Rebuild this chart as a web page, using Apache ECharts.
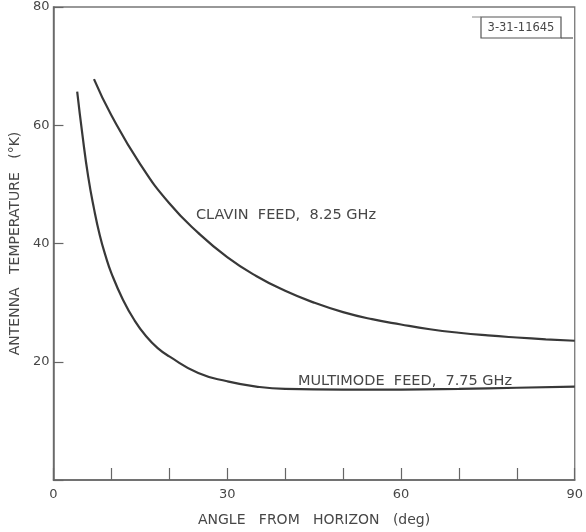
<!DOCTYPE html>
<html>
<head>
<meta charset="utf-8">
<script src="https://cdn.jsdelivr.net/npm/echarts@6/dist/echarts.min.js"></script>
<style>
  html, body { margin: 0; padding: 0; background: #fff; }
  #chart { width: 586px; height: 532px; }
</style>
</head>
<body>
<div id="chart"></div>
<script>
// ---- data ----
var clavinAngle = [7, 10, 15, 20, 25, 30, 35, 40, 45, 50, 55, 60, 65, 70, 75, 80, 85, 90];
var clavinTemp  = [67.8, 61.7, 53.4, 46.8, 41.8, 37.7, 34.5, 32.0, 30.0, 28.4, 27.2, 26.3, 25.5, 24.9, 24.45, 24.1, 23.8, 23.55];

var multiAngle = [4.1, 5, 6, 7, 8, 9, 10, 12, 14, 16, 18, 20, 25, 30, 35, 40, 50, 60, 70, 80, 90];
var multiTemp  = [65.7, 58.4, 51.3, 45.9, 41.4, 37.9, 35.0, 30.5, 27.0, 24.3, 22.3, 20.9, 18.1, 16.7, 15.8, 15.4, 15.3, 15.3, 15.4, 15.6, 15.8];

var xLabels = [0, 30, 60, 90];
var yLabels = [20, 40, 60, 80];

function pairs(xs, ys) {
    return xs.map(function (x, i) { return [x, ys[i]]; });
}

var inkText = '#474747';
var inkLine = '#383838';
var font = 'DejaVu Sans';

var myChart = echarts.init(document.getElementById('chart'));

var option = {
    backgroundColor: '#ffffff',
    animation: false,
    grid: {
        left: 53,
        right: 4,
        top: 7,
        bottom: 47,
        show: true,
        borderColor: '#777',
        borderWidth: 1.3
    },
    xAxis: {
        type: 'value',
        min: 0,
        max: 90,
        interval: 10,
        name: 'ANGLE   FROM   HORIZON   (deg)',
        nameLocation: 'middle',
        nameGap: 33,
        nameTextStyle: { color: inkText, fontSize: 14, fontFamily: font },
        axisLine: { lineStyle: { color: '#666', width: 1.5 } },
        axisTick: { inside: true, length: 12, lineStyle: { color: '#666', width: 1.2 } },
        axisLabel: {
            color: inkText,
            fontSize: 13,
            fontFamily: font,
            margin: 8,
            formatter: function (v) { return xLabels.indexOf(v) >= 0 ? String(v) : ''; }
        },
        splitLine: { show: false }
    },
    yAxis: {
        type: 'value',
        min: 0,
        max: 80,
        interval: 20,
        name: 'ANTENNA   TEMPERATURE   (°K)',
        nameLocation: 'middle',
        nameGap: 30,
        nameRotate: 90,
        nameTextStyle: { color: inkText, fontSize: 14, fontFamily: font },
        axisLine: { show: true, lineStyle: { color: '#666', width: 1.5 } },
        axisTick: { show: true, inside: true, length: 10, lineStyle: { color: '#666', width: 1.2 } },
        axisLabel: {
            color: inkText,
            fontSize: 13,
            fontFamily: font,
            margin: 4,
            formatter: function (v) { return yLabels.indexOf(v) >= 0 ? String(v) : ''; }
        },
        splitLine: { show: false }
    },
    graphic: [
        // figure number box, top right
        { type: 'rect', shape: { x: 481, y: 17, width: 80, height: 21 },
          style: { fill: 'none', stroke: '#555', lineWidth: 1.2 } },
        { type: 'line', shape: { x1: 472, y1: 17, x2: 481, y2: 17 }, style: { stroke: '#888', lineWidth: 1 } },
        { type: 'line', shape: { x1: 561, y1: 38, x2: 573, y2: 38 }, style: { stroke: '#555', lineWidth: 1.2 } },
        { type: 'text', x: 521, y: 28,
          style: { text: '3-31-11645', fill: inkText, fontSize: 11.5, fontFamily: font, align: 'center', verticalAlign: 'middle' } },
        // curve captions
        { type: 'text', x: 196, y: 215,
          style: { text: 'CLAVIN  FEED,  8.25 GHz', fill: inkText, fontSize: 14.5, fontFamily: font, verticalAlign: 'middle' } },
        { type: 'text', x: 298, y: 381,
          style: { text: 'MULTIMODE  FEED,  7.75 GHz', fill: inkText, fontSize: 14.5, fontFamily: font, verticalAlign: 'middle' } }
    ],
    series: [{
        name: 'Clavin feed, 8.25 GHz',
        type: 'line',
        data: pairs(clavinAngle, clavinTemp),
        smooth: 0.5,
        showSymbol: false,
        lineStyle: { color: inkLine, width: 2.2 }
    }, {
        name: 'Multimode feed, 7.75 GHz',
        type: 'line',
        data: pairs(multiAngle, multiTemp),
        smooth: 0.5,
        showSymbol: false,
        lineStyle: { color: inkLine, width: 2.2 }
    }]
};

if (option && typeof option === 'object') {
    myChart.setOption(option);
}
</script>
</body>
</html>
